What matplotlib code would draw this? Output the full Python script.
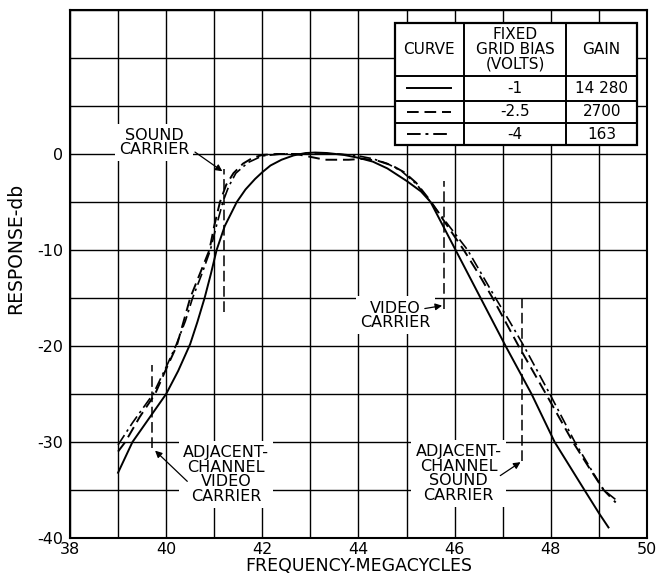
import matplotlib
matplotlib.use('Agg')
import matplotlib.pyplot as plt
from matplotlib.patches import Rectangle
from matplotlib.ticker import MultipleLocator

# response curves (frequency in Mc, response in db)
solid_freq = [39.0, 39.3, 39.65, 40.0, 40.25, 40.5, 40.65, 40.8, 40.93, 41.05, 41.22, 41.47,
              41.65, 41.85, 42.0, 42.17, 42.4, 42.65, 42.9, 43.1, 43.35, 43.7, 44.0, 44.3,
              44.6, 45.0, 45.3, 45.5, 46.02, 46.54, 47.06, 47.6, 48.08, 48.7, 49.0, 49.2]
solid_db = [-33.2, -30.0, -27.5, -25.0, -22.6, -19.8, -17.5, -15.0, -12.5, -10.0, -7.5, -5.0,
            -3.7, -2.6, -1.9, -1.2, -0.6, -0.15, 0.1, 0.15, 0.1, -0.1, -0.4, -0.8,
            -1.5, -2.8, -3.9, -5.0, -10.0, -15.0, -20.0, -25.0, -30.0, -35.0, -37.4, -38.9]

dashed_freq = [39.0, 39.15, 39.45, 39.77, 40.0, 40.22, 40.5, 40.7, 40.9, 41.0, 41.12,
               41.25, 41.4, 41.6, 41.8, 42.0, 42.3, 42.7, 43.0, 43.3, 43.8, 44.1, 44.4, 44.7,
               44.95, 45.2, 45.5, 45.85, 46.19, 46.5, 46.79, 47.06, 47.33, 47.9, 48.46, 48.8,
               49.1, 49.35]
dashed_db = [-31.0, -30.0, -27.4, -25.0, -22.4, -20.0, -15.0, -12.5, -10.0, -7.5, -5.0,
             -3.2, -2.0, -1.0, -0.4, -0.1, 0.0, 0.0, -0.3, -0.6, -0.6, -0.5, -0.7, -1.2,
             -1.9, -3.0, -4.9, -7.5, -10.0, -12.5, -15.0, -17.5, -20.0, -25.0, -30.0, -32.7,
             -35.0, -36.3]

dashdot_freq = [39.0, 39.3, 39.5, 39.73, 40.0, 40.2, 40.4, 40.55, 40.75, 40.92, 41.05, 41.18,
                41.3, 41.45, 41.7, 42.0, 42.4, 43.0, 43.6, 44.0, 44.3, 44.6, 44.9, 45.2, 45.5,
                45.9, 46.27, 46.56, 46.85, 47.15, 47.44, 47.98, 48.5, 48.82, 49.1, 49.4]
dashdot_db = [-30.3, -28.0, -26.6, -25.0, -22.2, -20.0, -17.4, -15.0, -12.4, -10.0, -7.4, -5.0,
              -3.4, -2.0, -0.9, -0.2, 0.0, 0.0, 0.0, -0.2, -0.5, -1.0, -1.8, -3.1, -5.0,
              -7.6, -10.0, -12.5, -15.0, -17.5, -20.0, -25.0, -30.0, -32.7, -35.0, -36.2]

# carrier marker lines: frequency, top and bottom of the dashed marker
carrier_freq = [41.2, 45.77, 39.7, 47.4]
carrier_top = [-1.6, -2.8, -22.0, -15.1]
carrier_bottom = [-16.5, -16.1, -30.6, -32.0]

# annotation labels
label_text = ['SOUND\nCARRIER', 'VIDEO\nCARRIER',
              'ADJACENT-\nCHANNEL\nVIDEO\nCARRIER', 'ADJACENT-\nCHANNEL\nSOUND\nCARRIER']
label_pos = [(39.75, 1.2), (44.77, -16.8), (41.25, -33.4), (46.08, -33.3)]
arrow_from = [(40.6, 0.2), (45.38, -16.1), (40.44, -34.1), (46.95, -33.5)]
arrow_to = [(41.17, -1.8), (45.74, -15.8), (39.77, -30.9), (47.37, -32.1)]

# legend table
bias_volts = ['-1', '-2.5', '-4']
gain_vals = ['14 280', '2700', '163']
curve_styles = ['-', (0, (6, 3)), (0, (7, 2.5, 1.5, 2.5))]

plt.rcParams['font.family'] = ['DejaVu Sans']
plt.rcParams['axes.unicode_minus'] = False

fig = plt.figure(figsize=(6.57, 5.77), dpi=100)
ax = fig.add_axes([0.1065, 0.0676, 0.8782, 0.9151])

ax.set_xlim(38, 50)
ax.set_ylim(-40, 15)
ax.xaxis.set_major_locator(MultipleLocator(2))
ax.xaxis.set_minor_locator(MultipleLocator(1))
ax.set_yticks([-40, -30, -20, -10, 0])
ax.yaxis.set_minor_locator(MultipleLocator(5))
ax.grid(which='both', color='black', lw=1.0)
ax.set_axisbelow(True)
ax.tick_params(which='both', length=0, labelsize=11.5)
ax.tick_params(axis='x', pad=3)
ax.tick_params(axis='y', pad=5)
for s in ax.spines.values():
    s.set_linewidth(1.5)

ax.set_xlabel('FREQUENCY-MEGACYCLES', fontsize=12.5, labelpad=0)
ax.set_ylabel('RESPONSE-db', fontsize=13.5)
ax.yaxis.set_label_coords(-0.078, 0.549)

ax.plot(solid_freq, solid_db, color='black', lw=1.4, ls=curve_styles[0], zorder=4)
ax.plot(dashed_freq, dashed_db, color='black', lw=1.4, ls=curve_styles[1], zorder=4)
ax.plot(dashdot_freq, dashdot_db, color='black', lw=1.2, ls=curve_styles[2], zorder=4)

ax.vlines(carrier_freq, carrier_bottom, carrier_top, colors='black', lw=1.1,
          linestyles=[(0, (7, 3))], zorder=4)

for txt, pos in zip(label_text, label_pos):
    ax.text(pos[0], pos[1], txt, ha='center', va='center', fontsize=11.5, linespacing=0.96,
            bbox=dict(facecolor='white', edgecolor='none', pad=3), zorder=3)
for a, b in zip(arrow_from, arrow_to):
    ax.annotate('', xy=b, xytext=a,
                arrowprops=dict(arrowstyle='-|>', color='black', lw=0.9, mutation_scale=10,
                                shrinkA=0, shrinkB=0), zorder=5)

# table drawn in axes fraction
tx0, tx1 = 0.563, 0.983
col_x = [0.683, 0.860]
row_y = [0.975, 0.875, 0.828, 0.786, 0.744]
tr = ax.transAxes
ax.add_patch(Rectangle((tx0, row_y[-1]), tx1 - tx0, row_y[0] - row_y[-1], transform=tr,
                       facecolor='white', edgecolor='black', lw=1.6, zorder=6))
for cx in col_x:
    ax.plot([cx, cx], [row_y[-1], row_y[0]], color='black', lw=1.4, transform=tr, zorder=7)
for ry in row_y[1:-1]:
    ax.plot([tx0, tx1], [ry, ry], color='black', lw=1.4, transform=tr, zorder=7)

hdr_y = (row_y[0] + row_y[1]) / 2
col_c = [(tx0 + col_x[0]) / 2, (col_x[0] + col_x[1]) / 2, (col_x[1] + tx1) / 2]
ax.text(col_c[0], hdr_y, 'CURVE', transform=tr, ha='center', va='center', fontsize=11, zorder=8)
ax.text(col_c[1], hdr_y, 'FIXED\nGRID BIAS\n(VOLTS)', transform=tr, ha='center', va='center',
        fontsize=11, linespacing=0.98, zorder=8)
ax.text(col_c[2], hdr_y, 'GAIN', transform=tr, ha='center', va='center', fontsize=11, zorder=8)
for i in range(3):
    yc = (row_y[i + 1] + row_y[i + 2]) / 2
    ax.plot([0.584, 0.660], [yc, yc], color='black', lw=1.4, ls=curve_styles[i], transform=tr,
            zorder=8)
    ax.text(col_c[1], yc, bias_volts[i], transform=tr, ha='center', va='center', fontsize=11,
            zorder=8)
    ax.text(col_c[2], yc, gain_vals[i], transform=tr, ha='center', va='center', fontsize=11,
            zorder=8)

fig.savefig('out.png', dpi=100)
